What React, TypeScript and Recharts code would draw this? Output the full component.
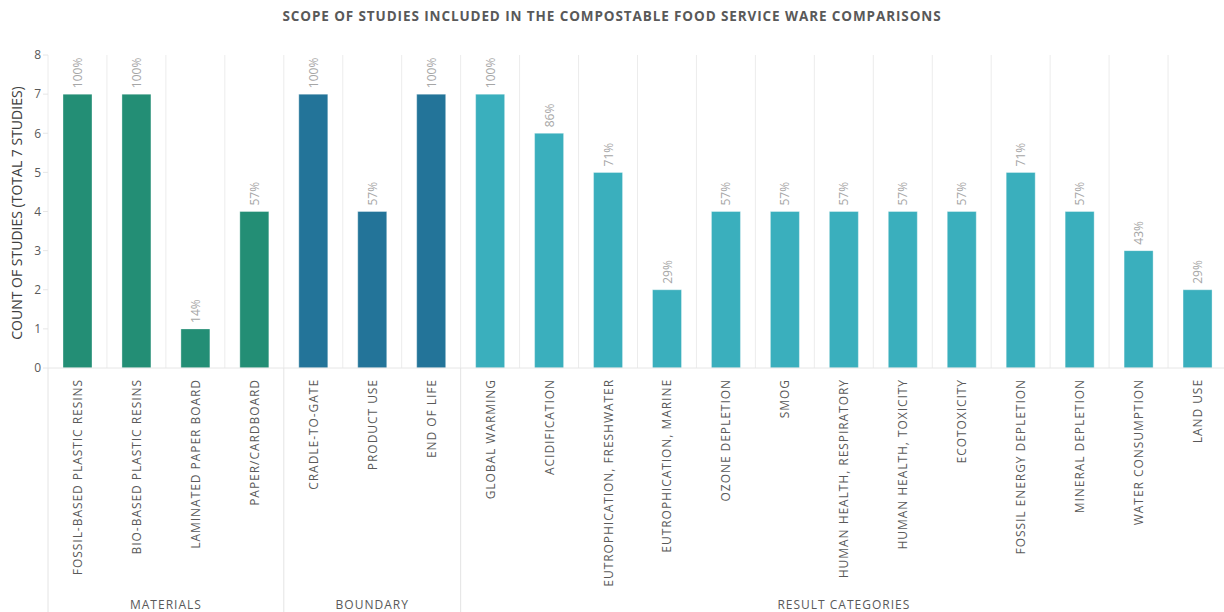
import React from 'react';
import { BarChart, Bar, XAxis, YAxis, CartesianGrid, Cell, LabelList } from 'recharts';

const categories = [
  'FOSSIL-BASED PLASTIC RESINS',
  'BIO-BASED PLASTIC RESINS',
  'LAMINATED PAPER BOARD',
  'PAPER/CARDBOARD',
  'CRADLE-TO-GATE',
  'PRODUCT USE',
  'END OF LIFE',
  'GLOBAL WARMING',
  'ACIDIFICATION',
  'EUTROPHICATION, FRESHWATER',
  'EUTROPHICATION, MARINE',
  'OZONE DEPLETION',
  'SMOG',
  'HUMAN HEALTH, RESPIRATORY',
  'HUMAN HEALTH, TOXICITY',
  'ECOTOXICITY',
  'FOSSIL ENERGY DEPLETION',
  'MINERAL DEPLETION',
  'WATER CONSUMPTION',
  'LAND USE',
];

const counts = [7, 7, 1, 4, 7, 4, 7, 7, 6, 5, 2, 4, 4, 4, 4, 4, 5, 4, 3, 2];

const percentLabels = [
  '100%', '100%', '14%', '57%', '100%', '57%', '100%', '100%', '86%', '71%',
  '29%', '57%', '57%', '57%', '57%', '57%', '71%', '57%', '43%', '29%',
];

const groupNames = ['MATERIALS', 'BOUNDARY', 'RESULT CATEGORIES'];
const groupSizes = [4, 3, 13];
const groupColors = ['#238e75', '#237499', '#3aafbd'];

const yTicks = [0, 1, 2, 3, 4, 5, 6, 7, 8];

const TITLE = 'SCOPE OF STUDIES INCLUDED IN THE COMPOSTABLE FOOD SERVICE WARE COMPARISONS';
const Y_LABEL = 'COUNT OF STUDIES (TOTAL 7 STUDIES)';

// layout
const CHART_W = 1228;
const CHART_H = 612;
const LEFT = 48;
const RIGHT_M = 1;
const TOP = 55;
const AXIS_H = 244;
const PLOT_W = CHART_W - LEFT - RIGHT_M;
const CELL_W = PLOT_W / categories.length;

const FONT = '"Open Sans", "DejaVu Sans", sans-serif';
const GRID = '#ececec';

// which group does each category belong to
const groupOf: number[] = [];
groupSizes.forEach((n, g) => {
  for (let i = 0; i < n; i++) groupOf.push(g);
});
const groupStart: number[] = [];
groupSizes.reduce((acc, n) => {
  groupStart.push(acc);
  return acc + n;
}, 0);

const data = categories.map((name, i) => ({
  name,
  count: counts[i],
  pct: percentLabels[i],
}));

function CategoryTick(props: any) {
  const { x, y, payload } = props;
  const idx = payload?.index ?? 0;
  const label = categories[idx] ?? String(payload?.value ?? '');
  const g = groupStart.indexOf(idx);
  const left = x - CELL_W / 2;

  return (
    <g>
      <text
        transform={`translate(${x + 4.5},${y + 3}) rotate(-90)`}
        textAnchor="end"
        fontFamily={FONT}
        fontSize={12}
        letterSpacing={0.95}
        fill="#595959"
      >
        {label}
      </text>
      {g >= 0 ? (
        <g>
          <line x1={left} x2={left} y1={y - 8} y2={CHART_H} stroke="#e4e4e4" strokeWidth={1} />
          <text
            x={left + (groupSizes[g] * CELL_W) / 2}
            y={609}
            textAnchor="middle"
            fontFamily={FONT}
            fontSize={12}
            letterSpacing={1}
            fill="#595959"
          >
            {groupNames[g]}
          </text>
          {g === groupNames.length - 1 ? (
            <line
              x1={left + groupSizes[g] * CELL_W}
              x2={left + groupSizes[g] * CELL_W}
              y1={y - 8}
              y2={CHART_H}
              stroke="#e4e4e4"
              strokeWidth={1}
            />
          ) : null}
        </g>
      ) : null}
    </g>
  );
}

function PctLabel(props: any) {
  const { x, y, width, index } = props;
  const cx = Number(x) + Number(width) / 2;
  return (
    <text
      transform={`translate(${cx + 4.5},${Number(y) - 6}) rotate(-90)`}
      textAnchor="start"
      fontFamily={FONT}
      fontSize={12}
      fill="#a6a6a6"
    >
      {percentLabels[index]}
    </text>
  );
}

export default function App() {
  return (
    <div
      style={{
        position: 'absolute',
        left: 0,
        top: 0,
        width: 1224,
        height: 612,
        overflow: 'hidden',
        background: '#fff',
        fontFamily: FONT,
      }}
    >
      <BarChart
        width={CHART_W}
        height={CHART_H}
        data={data}
        margin={{ top: TOP, right: RIGHT_M, left: 0, bottom: 0 }}
        barCategoryGap={0}
      >
        <CartesianGrid
          horizontal={false}
          stroke={GRID}
          verticalCoordinatesGenerator={({ offset }: any) =>
            categories.map((_, i) => offset.left + (i * offset.width) / categories.length).concat([offset.left + offset.width])
          }
        />
        <XAxis
          dataKey="name"
          interval={0}
          height={AXIS_H}
          tick={<CategoryTick />}
          tickLine={false}
          axisLine={{ stroke: '#e6e6e6' }}
        />
        <YAxis
          width={LEFT}
          domain={[0, 8]}
          ticks={yTicks}
          interval={0}
          tick={{ fill: '#595959', fontSize: 12, fontFamily: FONT }}
          tickLine={{ stroke: '#e6e6e6' }}
          tickSize={5}
          axisLine={false}
        />
        <Bar dataKey="count" barSize={29} isAnimationActive={false}>
          {data.map((d, i) => (
            <Cell
              key={d.name}
              fill={groupColors[groupOf[i]]}
              stroke="rgba(255,255,255,0.35)"
              strokeWidth={1}
            />
          ))}
          <LabelList dataKey="pct" content={<PctLabel />} />
        </Bar>
      </BarChart>

      <svg
        width={1224}
        height={612}
        style={{ position: 'absolute', left: 0, top: 0, pointerEvents: 'none' }}
      >
        <text
          x={612}
          y={21}
          textAnchor="middle"
          fontFamily={FONT}
          fontSize={13.5}
          fontWeight={700}
          letterSpacing={0.9}
          fill="#595959"
        >
          {TITLE}
        </text>
        <text
          transform="translate(22,213) rotate(-90)"
          textAnchor="middle"
          fontFamily={FONT}
          fontSize={14}
          fill="#404040"
        >
          {Y_LABEL}
        </text>
      </svg>
    </div>
  );
}
